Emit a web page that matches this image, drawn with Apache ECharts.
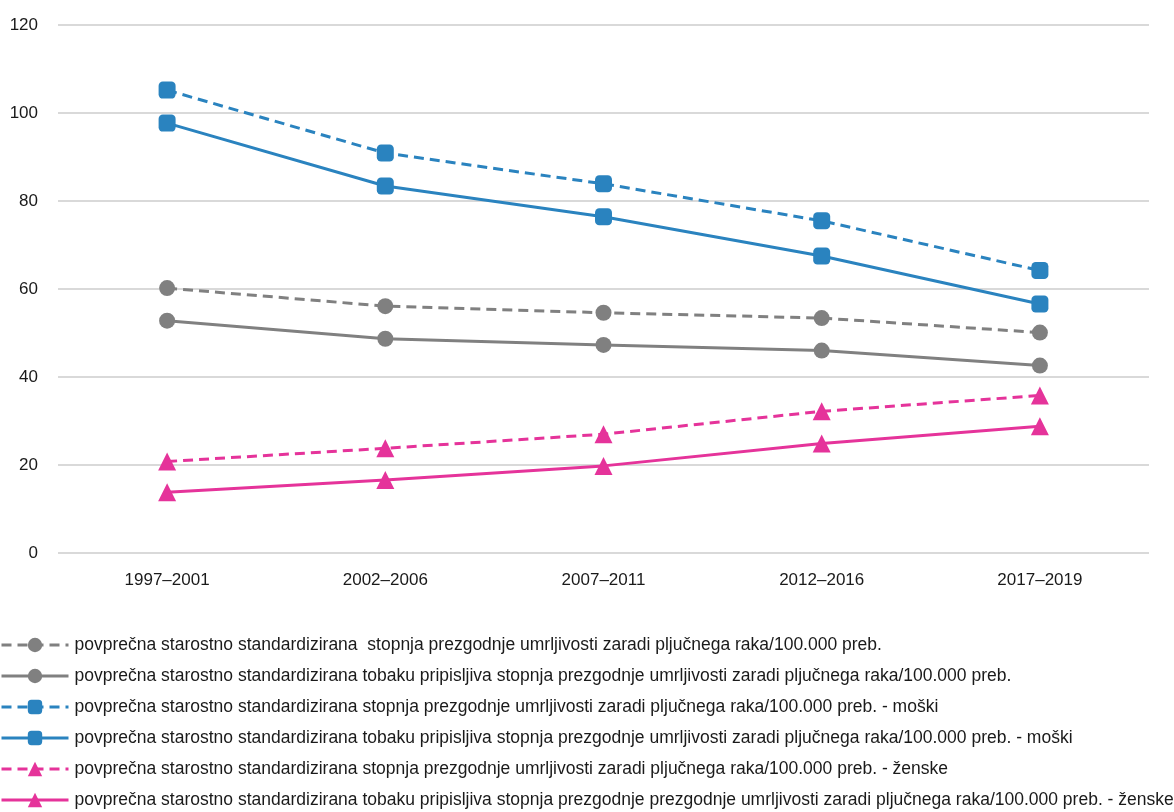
<!DOCTYPE html>
<html><head><meta charset="utf-8">
<script src="https://cdn.jsdelivr.net/npm/echarts@6/dist/echarts.min.js"></script>
<style>html,body{margin:0;padding:0;background:#fff}#c{width:1174px;height:812px}</style>
</head><body><div id="c"></div>
<script>
const categories = ['1997–2001','2002–2006','2007–2011','2012–2016','2017–2019'];
const yTicks = [0, 20, 40, 60, 80, 100, 120];
const names = [
  'povprečna starostno standardizirana  stopnja prezgodnje umrljivosti zaradi pljučnega raka/100.000 preb.',
  'povprečna starostno standardizirana tobaku pripisljiva stopnja prezgodnje umrljivosti zaradi pljučnega raka/100.000 preb.',
  'povprečna starostno standardizirana stopnja prezgodnje umrljivosti zaradi pljučnega raka/100.000 preb. - moški',
  'povprečna starostno standardizirana tobaku pripisljiva stopnja prezgodnje umrljivosti zaradi pljučnega raka/100.000 preb. - moški',
  'povprečna starostno standardizirana stopnja prezgodnje umrljivosti zaradi pljučnega raka/100.000 preb. - ženske',
  'povprečna starostno standardizirana tobaku pripisljiva stopnja prezgodnje prezgodnje umrljivosti zaradi pljučnega raka/100.000 preb. - ženske'
];
const totalAll = [60.2, 56.1, 54.6, 53.4, 50.1];
const tobaccoAll = [52.8, 48.7, 47.3, 46.0, 42.6];
const totalMen = [105.2, 90.9, 83.9, 75.5, 64.2];
const tobaccoMen = [97.7, 83.4, 76.4, 67.5, 56.6];
const totalWomen = [20.8, 23.8, 27.0, 32.2, 35.8];
const tobaccoWomen = [13.8, 16.6, 19.8, 24.9, 28.8];

const FONT = '"Liberation Sans Narrow", "Arial Narrow", "Liberation Sans", Arial, sans-serif';
const GRAY = '#808080', BLUE = '#2A83BF', PINK = '#E5339A';

function mk(name, data, color, dashed, symbol, size) {
  return {
    name, type: 'line', data, symbol, symbolSize: size,
    itemStyle: { color },
    lineStyle: { color, width: 3, type: dashed ? [10, 6] : 'solid' },
    emphasis: { disabled: true },
    z: 2
  };
}

const chart = echarts.init(document.getElementById('c'), null, { renderer: 'canvas' });
chart.setOption({
  animation: false,
  textStyle: { fontFamily: FONT },
  grid: { left: 58, right: 25, top: 25, bottom: 259, containLabel: false },
  xAxis: {
    type: 'category', data: categories, boundaryGap: true,
    axisLine: { show: false }, axisTick: { show: false },
    axisLabel: { color: '#1a1a1a', fontSize: 17, fontFamily: FONT, margin: 19 }
  },
  yAxis: {
    type: 'value', min: yTicks[0], max: yTicks[yTicks.length - 1], interval: 20,
    axisLine: { show: false }, axisTick: { show: false },
    axisLabel: { color: '#1a1a1a', fontSize: 17, fontFamily: FONT, margin: 20 },
    splitLine: { lineStyle: { color: '#d9d9d9', width: 2 } }
  },
  legend: {
    orient: 'vertical', left: 0, top: 636, padding: 0,
    itemWidth: 67, itemHeight: 18, itemGap: 13,
    lineStyle: { width: 3 },
    textStyle: { color: '#1a1a1a', fontSize: 17.5, fontFamily: FONT, lineHeight: 18, padding: [0, 0, 0, 1] },
    data: names
  },
  series: [
    mk(names[0], totalAll, GRAY, true, 'circle', 16),
    mk(names[1], tobaccoAll, GRAY, false, 'circle', 16),
    mk(names[2], totalMen, BLUE, true, 'roundRect', 17),
    mk(names[3], tobaccoMen, BLUE, false, 'roundRect', 17),
    mk(names[4], totalWomen, PINK, true, 'triangle', 18),
    mk(names[5], tobaccoWomen, PINK, false, 'triangle', 18)
  ]
});
</script></body></html>
